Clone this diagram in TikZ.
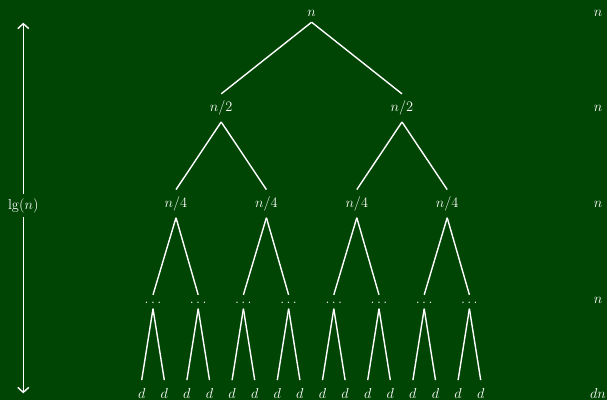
\documentclass[tikz,border=0pt]{standalone}
\usetikzlibrary{arrows.meta}
\definecolor{bggreen}{RGB}{0,69,4}
\begin{document}
\begin{tikzpicture}[x=1pt,y=-1pt,
  lbl/.style={text=white, font=\fontsize{15}{17}\selectfont, anchor=base,
    text height=10.7pt, text depth=3pt, inner ysep=7pt, inner xsep=1pt},
  rootlbl/.style={lbl, text depth=0pt, inner ysep=6pt},
  dotlbl/.style={lbl, text height=3.5pt, text depth=1pt, inner ysep=4.5pt},
  sidelbl/.style={text=white, font=\fontsize{15}{17}\selectfont, anchor=base, inner sep=4pt},
  edge/.style={draw=white, line width=1.4pt},
  arr/.style={draw=white, line width=1.4pt, -{Straight Barb[length=5pt,width=11pt,line width=1.4pt]}}]
\fill[bggreen] (0,0) rectangle (607,400);
\useasboundingbox (0,0) rectangle (607,400);
% tree
\node[rootlbl] (r) at (311.6,16) {$n$};
\node[lbl] (a1) at (221.2,111.75) {$n/2$};
\node[lbl] (a2) at (402,111.75) {$n/2$};
\foreach \i/\x in {1/176,2/266.4,3/356.8,4/447.2}
  \node[lbl] (b\i) at (\x,207.5) {$n/4$};
\foreach \i in {1,...,8}
  \node[dotlbl] (c\i) at ({153+45.2*(\i-1)},303) {$\ldots$};
\foreach \i in {1,...,16}
  \node[lbl] (d\i) at ({141.7+22.6*(\i-1)},398) {$d$};
\draw[edge] (r.south) -- (a1.north);
\draw[edge] (r.south) -- (a2.north);
\draw[edge] (a1.south) -- (b1.north);
\draw[edge] (a1.south) -- (b2.north);
\draw[edge] (a2.south) -- (b3.north);
\draw[edge] (a2.south) -- (b4.north);
\foreach \i in {1,...,4}{
  \pgfmathtruncatemacro{\l}{2*\i-1}
  \pgfmathtruncatemacro{\r}{2*\i}
  \draw[edge] (b\i.south) -- (c\l.north);
  \draw[edge] (b\i.south) -- (c\r.north);
}
\foreach \i in {1,...,8}{
  \pgfmathtruncatemacro{\l}{2*\i-1}
  \pgfmathtruncatemacro{\r}{2*\i}
  \draw[edge] (c\i.south) -- (d\l.north);
  \draw[edge] (c\i.south) -- (d\r.north);
}
% left arrow
\node[sidelbl] (lg) at (23.3,209) {$\lg(n)$};
\coordinate (top) at (23.3,22.7);
\coordinate (bot) at (23.3,393.3);
\draw[arr] (lg) -- (top);
\draw[arr] (lg) -- (bot);
% right column
\node[sidelbl] (s0) at (598,16) {$n$};
\node[sidelbl] (s1) at (598,111.75) {$n$};
\node[sidelbl] (s2) at (598,207.5) {$n$};
\node[sidelbl] (s3) at (598,303) {$n$};
\node[sidelbl] (s4) at (598,398) {$dn$};
\end{tikzpicture}
\end{document}
